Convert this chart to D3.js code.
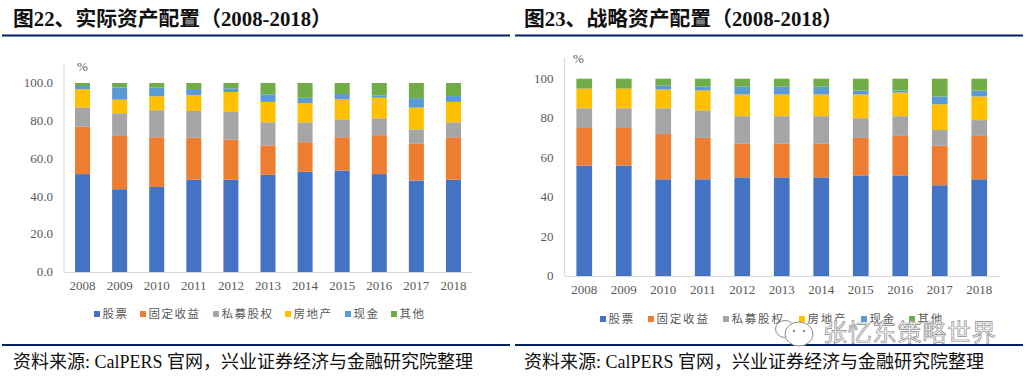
<!DOCTYPE html>
<html>
<head>
<meta charset="utf-8">
<script src="https://cdn.jsdelivr.net/npm/d3@7"></script>
<style>
  html, body { margin: 0; padding: 0; background: #fff; }
  svg { display: block; }
  .tick-label { font-family: "Liberation Serif", serif; font-size: 13px; fill: #595959; }
  .title { font-family: "Liberation Serif", "Noto Sans CJK SC", sans-serif; font-size: 20.8px; font-weight: 700; fill: #111; }
  .source { font-family: "Liberation Serif", "Noto Sans CJK SC", sans-serif; font-size: 18px; fill: #111; }
  .legend-label { font-family: "Noto Sans CJK SC", sans-serif; font-size: 11.5px; fill: #595959; }
</style>
</head>
<body>
<div id="chart"></div>
<script>
const years = ["2008","2009","2010","2011","2012","2013","2014","2015","2016","2017","2018"];
const seriesNames = ["股票","固定收益","私募股权","房地产","现金","其他"];
const seriesColors = ["#4472C4","#ED7D31","#A5A5A5","#FFC000","#5B9BD5","#70AD47"];

// fig 22, actual allocation
const actualStocks = [51.8,43.8,45,48.8,48.8,51.4,53,53.7,51.8,48.4,48.8];
const actualFixed  = [25.1,28.2,26.3,22.2,21.2,15.6,15.7,17.6,20.6,19.4,22.5];
const actualPE     = [10.2,12,14.3,14.2,14.7,12.2,10.5,9.5,8.9,7.7,7.9];
const actualRE     = [9.6,7.2,7.4,8.3,10.5,10.8,10.1,10.7,10.9,11.5,10.8];
const actualCash   = [1.7,6.5,4.5,3.3,2,4,2.9,2.7,1.3,5,3.1];
const actualOther  = [1.6,2.3,2.5,3.2,2.8,6,7.8,5.8,6.5,8,6.9];

// fig 23, strategic allocation
const targetStocks = [56,56,49,49,50,50,50,51,51,46,49];
const targetFixed  = [19,19,23,21,17,17,17,19,20,20,22];
const targetPE     = [10,10,13,14,14,14,14,10,10,8,8];
const targetRE     = [10,10,9.5,10,11,11,11,12,12,13,12];
const targetCash   = [0,0,2,2,4,4,4,2,1,4,3];
const targetOther  = [5,5,3.5,4,4,4,4,6,6,9,6];

const svg = d3.select("#chart").append("svg").attr("width", 1029).attr("height", 378);
const navy = "#002060";

function panel(opts) {
  const { rows, left, right, top, bottom, axisTop, barWidth, tickFmt, legendX, legendY, legendStep } = opts;
  const table = years.map((y, i) => {
    const d = { year: y };
    seriesNames.forEach((n, j) => { d[n] = rows[j][i]; });
    return d;
  });
  const stacked = d3.stack().keys(seriesNames)(table);

  const x = d3.scaleBand().domain(years).range([left, right]);
  const y = d3.scaleLinear().domain([0, 100]).range([bottom, top]);
  const color = d3.scaleOrdinal(seriesNames, seriesColors);

  const g = svg.append("g");

  // bars
  g.append("g").selectAll("g").data(stacked).join("g")
    .attr("fill", d => color(d.key))
    .selectAll("rect").data(d => d).join("rect")
      .attr("x", d => x(d.data.year) + (x.bandwidth() - barWidth) / 2)
      .attr("width", barWidth)
      .attr("y", d => y(d[1]))
      .attr("height", d => y(d[0]) - y(d[1]));

  // axes
  const gx = g.append("g").attr("transform", `translate(0,${bottom})`)
    .call(d3.axisBottom(x).tickSize(0).tickPadding(opts.xPad));
  gx.select(".domain").attr("stroke", "#d9d9d9").attr("stroke-width", 1.2);
  gx.selectAll("text").attr("class", "tick-label").attr("font-family", null).attr("font-size", null).attr("fill", null);

  const gy = g.append("g").attr("transform", `translate(${left},0)`)
    .call(d3.axisLeft(y).tickValues([0,20,40,60,80,100]).tickFormat(tickFmt).tickSize(0).tickPadding(11));
  gy.select(".domain").remove();
  gy.selectAll("text").attr("class", "tick-label").attr("font-family", null).attr("font-size", null).attr("fill", null)
    .attr("dy", "0.28em");
  g.append("line").attr("x1", left).attr("x2", left).attr("y1", axisTop).attr("y2", bottom)
    .attr("stroke", "#d9d9d9").attr("stroke-width", 1.2);

  g.append("text").attr("class", "tick-label")
    .attr("x", opts.pctX).attr("y", opts.pctY).text("%");

  // legend
  seriesNames.forEach((n, i) => {
    g.append("rect").attr("x", legendX[i]).attr("y", legendY - 3).attr("width", 6).attr("height", 6).attr("fill", color(n));
    g.append("text").attr("class", "legend-label")
      .attr("x", legendX[i] + 8.5).attr("y", legendY + 4)
      .attr("letter-spacing", legendStep).text(n);
  });

  // header, footer
  g.append("text").attr("class", "title").attr("x", opts.textX).attr("y", 26).text(opts.title);
  g.append("text").attr("class", "source").attr("x", opts.textX).attr("y", 368).text("资料来源: CalPERS 官网，兴业证券经济与金融研究院整理");
  [35.5, 345].forEach(ly => {
    g.append("line").attr("x1", opts.ruleX[0]).attr("x2", opts.ruleX[1]).attr("y1", ly).attr("y2", ly)
      .attr("stroke", navy).attr("stroke-width", 2);
  });
}

panel({
  rows: [actualStocks, actualFixed, actualPE, actualRE, actualCash, actualOther],
  left: 64, right: 472, top: 83, bottom: 272, axisTop: 63, barWidth: 15, xPad: 9,
  tickFmt: d3.format(".1f"),
  legendX: [94, 140, 213, 285, 345, 391], legendY: 314, legendStep: 1.5,
  pctX: 77, pctY: 71,
  title: "图22、实际资产配置（2008-2018）", textX: 13, ruleX: [2, 510]
});

panel({
  rows: [targetStocks, targetFixed, targetPE, targetRE, targetCash, targetOther],
  left: 564.5, right: 999, top: 78.7, bottom: 276, axisTop: 58, barWidth: 15.7, xPad: 9,
  tickFmt: d3.format("d"),
  legendX: [600, 648, 723, 799, 861, 909], legendY: 319, legendStep: 1.8,
  pctX: 573, pctY: 63,
  title: "图23、战略资产配置（2008-2018）", textX: 524, ruleX: [515, 1023]
});

// watermark over the right legend
const wm = svg.append("g");
const bubble = "#8c8c8c";
wm.append("ellipse").attr("cx", 785).attr("cy", 329).attr("rx", 9.5).attr("ry", 8.5).attr("fill", "#fff").attr("stroke", bubble);
wm.append("ellipse").attr("cx", 799).attr("cy", 334).attr("rx", 14).attr("ry", 12).attr("fill", "#fff").attr("stroke", bubble);
[[794,331],[804,331]].forEach(p => wm.append("circle").attr("cx", p[0]).attr("cy", p[1]).attr("r", 1.2).attr("fill", bubble));
wm.append("text").attr("x", 823).attr("y", 341)
  .attr("font-family", "'Noto Sans CJK SC', sans-serif").attr("font-size", 24).attr("letter-spacing", 0.8)
  .attr("fill", "#fff").attr("stroke", "#8c8c8c").attr("stroke-width", 0.7)
  .text("张忆东策略世界");
</script>
</body>
</html>
